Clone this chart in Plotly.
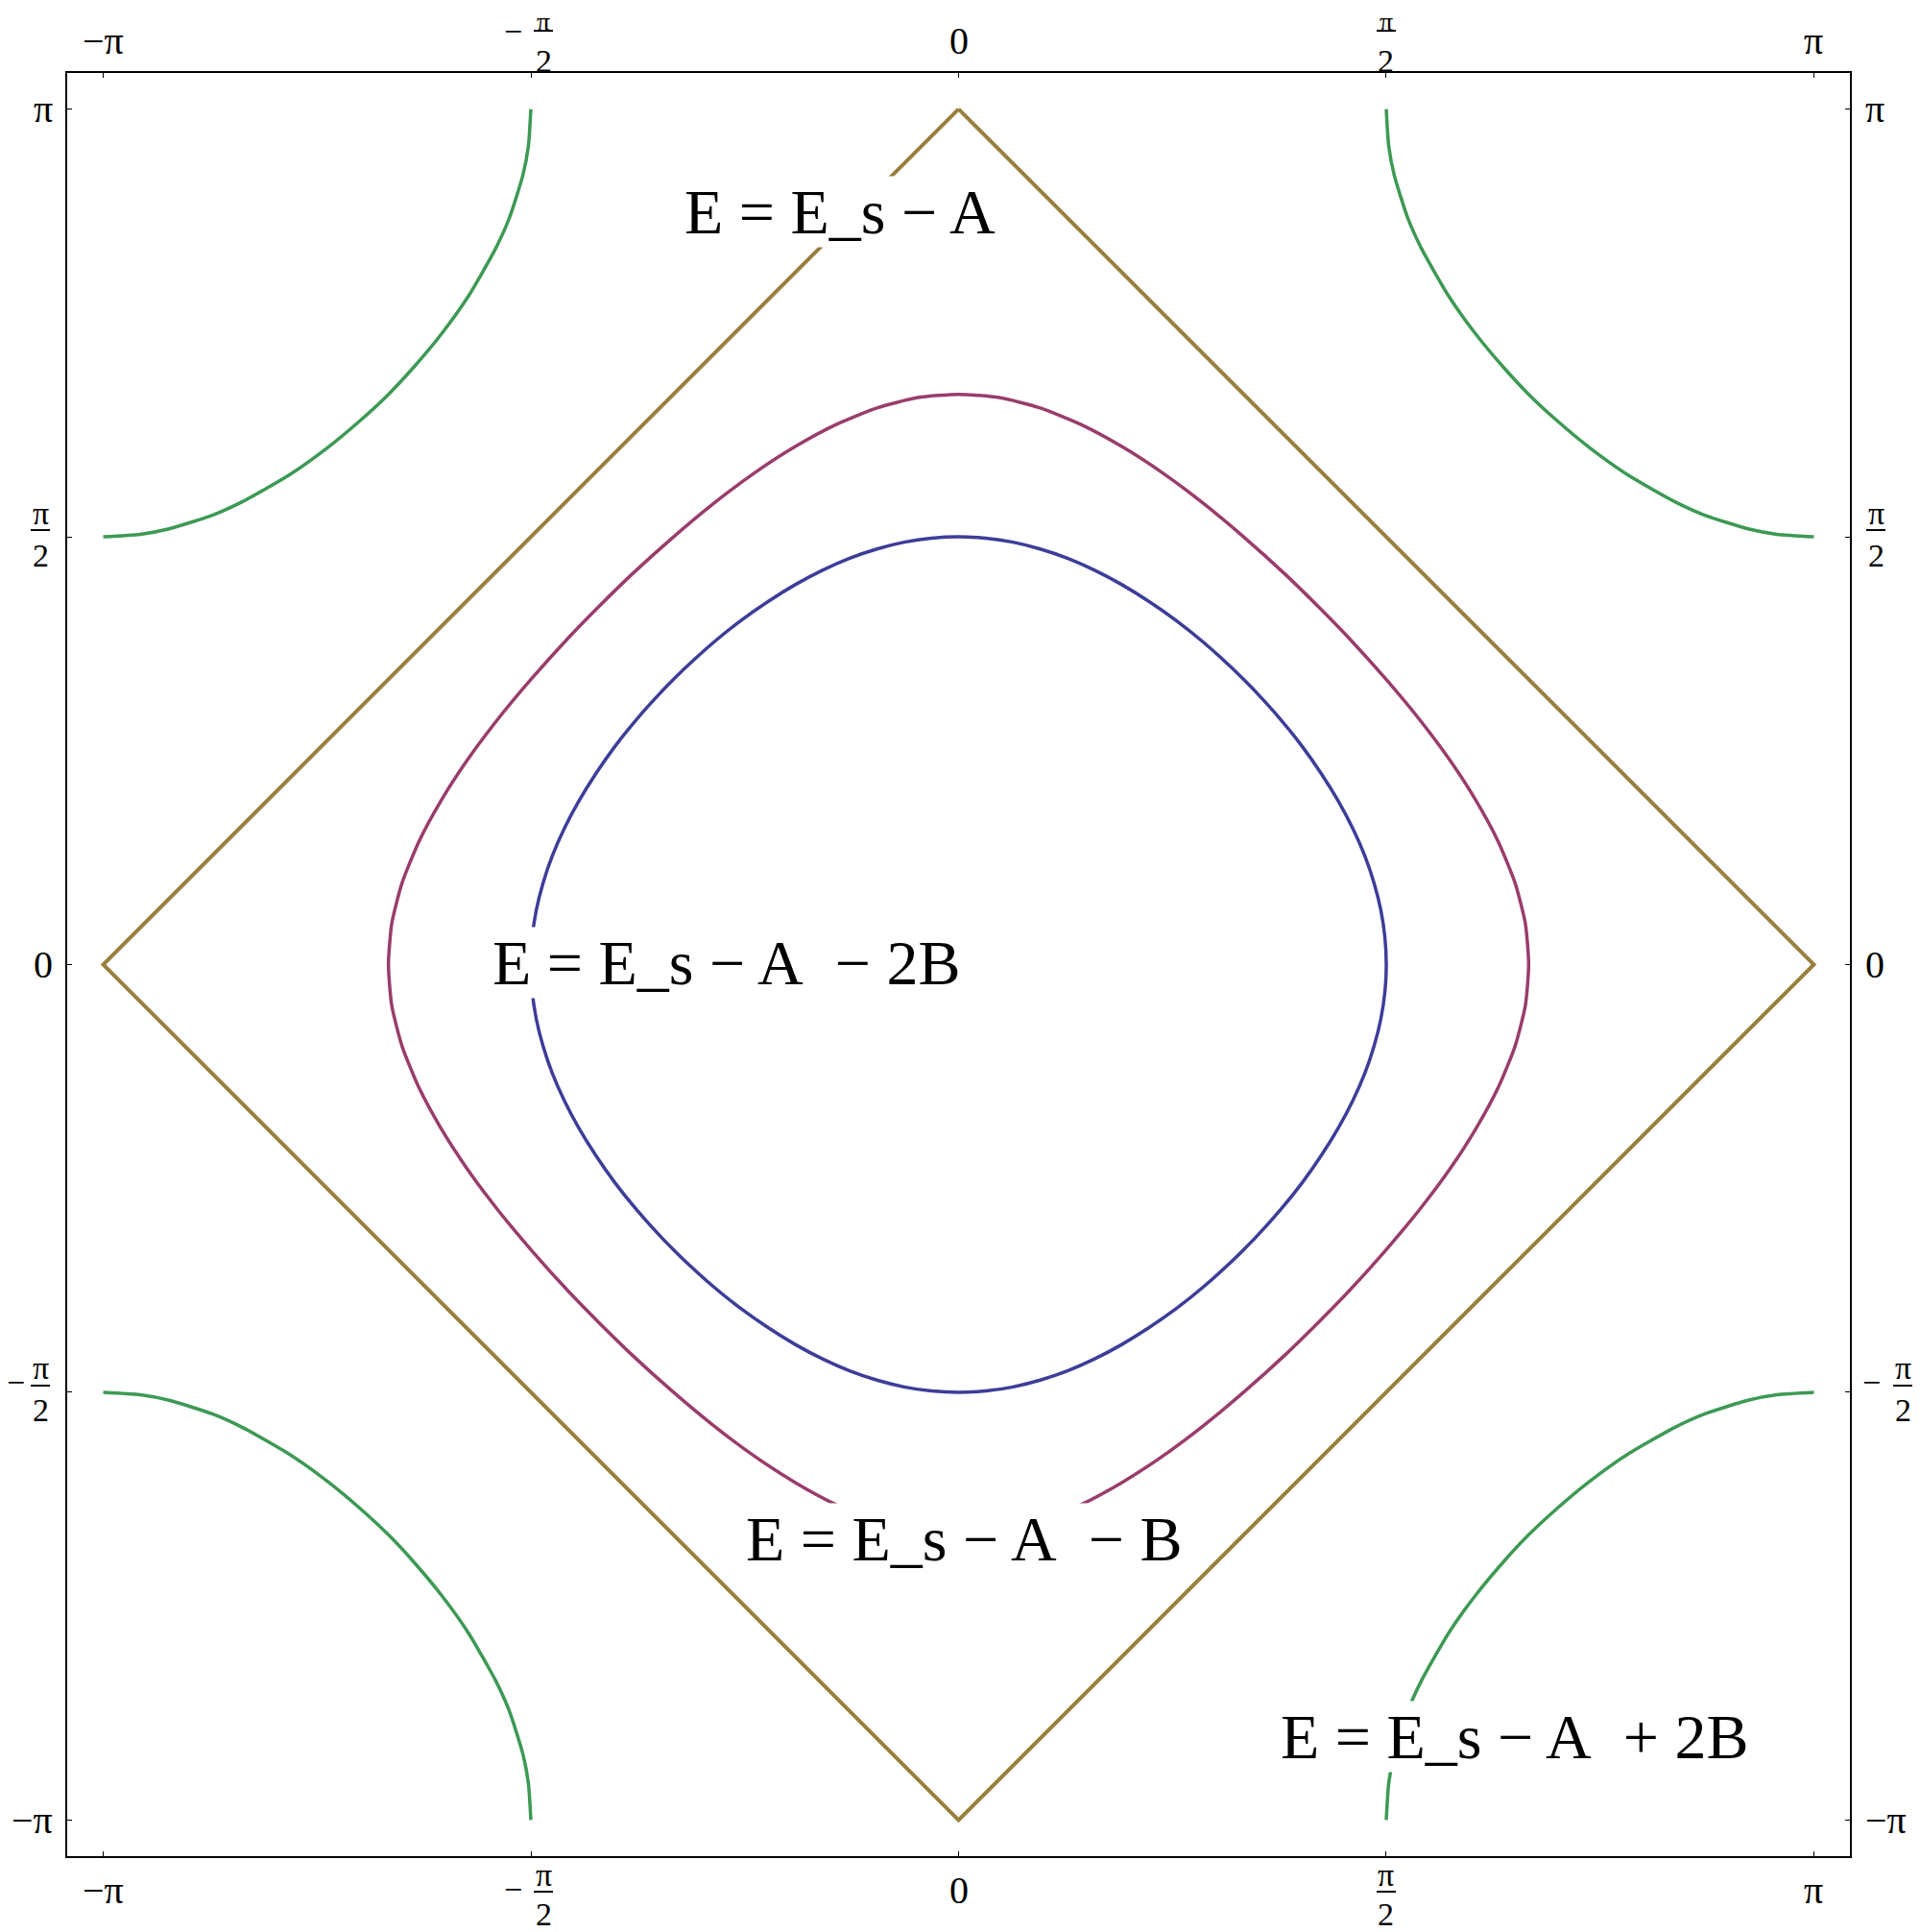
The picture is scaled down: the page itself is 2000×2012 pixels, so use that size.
import plotly.graph_objects as go

PI = 3.141592653589793

# ---------------- data ----------------
# contour E = E_s - A - 2B  (inner, blue), quadrant by quadrant, clockwise from the top
blue_q1_x = [0, 0.1, 0.2, 0.3, 0.4, 0.5, 0.6, 0.7, 0.8, 0.9, 1.0, 1.047, 1.093, 1.183, 1.263, 1.333, 1.395, 1.448, 1.492, 1.526, 1.551, 1.566, 1.571]
blue_q1_y = [1.571, 1.566, 1.551, 1.526, 1.492, 1.448, 1.395, 1.333, 1.263, 1.183, 1.093, 1.047, 1.0, 0.9, 0.8, 0.7, 0.6, 0.5, 0.4, 0.3, 0.2, 0.1, 0]
blue_q4_x = [1.566, 1.551, 1.526, 1.492, 1.448, 1.395, 1.333, 1.263, 1.183, 1.093, 1.047, 1.0, 0.9, 0.8, 0.7, 0.6, 0.5, 0.4, 0.3, 0.2, 0.1, 0]
blue_q4_y = [-0.1, -0.2, -0.3, -0.4, -0.5, -0.6, -0.7, -0.8, -0.9, -1.0, -1.047, -1.093, -1.183, -1.263, -1.333, -1.395, -1.448, -1.492, -1.526, -1.551, -1.566, -1.571]
blue_q3_x = [-0.1, -0.2, -0.3, -0.4, -0.5, -0.6, -0.7, -0.8, -0.9, -1.0, -1.047, -1.093, -1.183, -1.263, -1.333, -1.395, -1.448, -1.492, -1.526, -1.551, -1.566, -1.571]
blue_q3_y = [-1.566, -1.551, -1.526, -1.492, -1.448, -1.395, -1.333, -1.263, -1.183, -1.093, -1.047, -1.0, -0.9, -0.8, -0.7, -0.6, -0.5, -0.4, -0.3, -0.2, -0.1, 0]
blue_q2_x = [-1.566, -1.551, -1.526, -1.492, -1.448, -1.395, -1.333, -1.263, -1.183, -1.093, -1.047, -1.0, -0.9, -0.8, -0.7, -0.6, -0.5, -0.4, -0.3, -0.2, -0.1, 0]
blue_q2_y = [0.1, 0.2, 0.3, 0.4, 0.5, 0.6, 0.7, 0.8, 0.9, 1.0, 1.047, 1.093, 1.183, 1.263, 1.333, 1.395, 1.448, 1.492, 1.526, 1.551, 1.566, 1.571]

# contour E = E_s - A - B  (magenta)
mag_q1_x = [0, 0.15, 0.30, 0.45, 0.60, 0.75, 0.90, 1.05, 1.20, 1.318, 1.433, 1.568, 1.693, 1.805, 1.902, 1.983, 2.044, 2.082, 2.094]
mag_q1_y = [2.094, 2.082, 2.044, 1.983, 1.902, 1.805, 1.693, 1.568, 1.433, 1.318, 1.20, 1.05, 0.90, 0.75, 0.60, 0.45, 0.30, 0.15, 0]
mag_q4_x = [2.082, 2.044, 1.983, 1.902, 1.805, 1.693, 1.568, 1.433, 1.318, 1.20, 1.05, 0.90, 0.75, 0.60, 0.45, 0.30, 0.15, 0]
mag_q4_y = [-0.15, -0.30, -0.45, -0.60, -0.75, -0.90, -1.05, -1.20, -1.318, -1.433, -1.568, -1.693, -1.805, -1.902, -1.983, -2.044, -2.082, -2.094]
mag_q3_x = [-0.15, -0.30, -0.45, -0.60, -0.75, -0.90, -1.05, -1.20, -1.318, -1.433, -1.568, -1.693, -1.805, -1.902, -1.983, -2.044, -2.082, -2.094]
mag_q3_y = [-2.082, -2.044, -1.983, -1.902, -1.805, -1.693, -1.568, -1.433, -1.318, -1.20, -1.05, -0.90, -0.75, -0.60, -0.45, -0.30, -0.15, 0]
mag_q2_x = [-2.082, -2.044, -1.983, -1.902, -1.805, -1.693, -1.568, -1.433, -1.318, -1.20, -1.05, -0.90, -0.75, -0.60, -0.45, -0.30, -0.15, 0]
mag_q2_y = [0.15, 0.30, 0.45, 0.60, 0.75, 0.90, 1.05, 1.20, 1.318, 1.433, 1.568, 1.693, 1.805, 1.902, 1.983, 2.044, 2.082, 2.094]

# contour E = E_s - A  (diamond, gold)
dia_x = [0, 3.1416, 0, -3.1416, 0]
dia_y = [3.1416, 0, -3.1416, 0, 3.1416]

# contour E = E_s - A + 2B  (four corner arcs, green)
grn_tr_x = [1.571, 1.58, 1.60, 1.65, 1.70, 1.80, 1.90, 2.0, 2.094, 2.195, 2.315, 2.455, 2.630, 2.741, 2.900, 3.006, 3.1416]
grn_tr_y = [3.1416, 3.006, 2.900, 2.741, 2.630, 2.455, 2.315, 2.195, 2.094, 2.0, 1.90, 1.80, 1.70, 1.65, 1.60, 1.58, 1.571]
grn_tl_x = [-1.571, -1.58, -1.60, -1.65, -1.70, -1.80, -1.90, -2.0, -2.094, -2.195, -2.315, -2.455, -2.630, -2.741, -2.900, -3.006, -3.1416]
grn_tl_y = [3.1416, 3.006, 2.900, 2.741, 2.630, 2.455, 2.315, 2.195, 2.094, 2.0, 1.90, 1.80, 1.70, 1.65, 1.60, 1.58, 1.571]
grn_bl_x = [-1.571, -1.58, -1.60, -1.65, -1.70, -1.80, -1.90, -2.0, -2.094, -2.195, -2.315, -2.455, -2.630, -2.741, -2.900, -3.006, -3.1416]
grn_bl_y = [-3.1416, -3.006, -2.900, -2.741, -2.630, -2.455, -2.315, -2.195, -2.094, -2.0, -1.90, -1.80, -1.70, -1.65, -1.60, -1.58, -1.571]
grn_br_x = [1.571, 1.58, 1.60, 1.65, 1.70, 1.80, 1.90, 2.0, 2.094, 2.195, 2.315, 2.455, 2.630, 2.741, 2.900, 3.006, 3.1416]
grn_br_y = [-3.1416, -3.006, -2.900, -2.741, -2.630, -2.455, -2.315, -2.195, -2.094, -2.0, -1.90, -1.80, -1.70, -1.65, -1.60, -1.58, -1.571]

tick_vals = [-PI, -PI / 2, 0, PI / 2, PI]
# (sign, numerator, denominator) ; empty denominator means a plain label
tick_parts = [("−", "π", ""), ("−", "π", "2"), ("", "0", ""), ("", "π", "2"), ("", "π", "")]

label_texts = ["E = E_s − A", "E = E_s − A\u00a0 − 2B", "E = E_s − A\u00a0 − B", "E = E_s − A\u00a0 + 2B"]
label_x = [-0.434, -0.853, 0.021, 2.045]
label_y = [2.766, 0.006, -2.107, -2.835]

# ---------------- style ----------------
C_BLUE = "#3d3d99"
C_MAG = "#993d6b"
C_GOLD = "#997f3d"
C_GRN = "#3d9954"
SERIF = "Liberation Serif"
RNG = [-3.274, 3.274]

blue_x = blue_q1_x + blue_q4_x + blue_q3_x + blue_q2_x
blue_y = blue_q1_y + blue_q4_y + blue_q3_y + blue_q2_y
mag_x = mag_q1_x + mag_q4_x + mag_q3_x + mag_q2_x
mag_y = mag_q1_y + mag_q4_y + mag_q3_y + mag_q2_y

fig = go.Figure()
spl = dict(shape="spline", smoothing=0.6)
fig.add_trace(go.Scatter(x=blue_x, y=blue_y, mode="lines", line=dict(color=C_BLUE, width=3.5, **spl)))
fig.add_trace(go.Scatter(x=mag_x, y=mag_y, mode="lines", line=dict(color=C_MAG, width=3.5, **spl)))
fig.add_trace(go.Scatter(x=dia_x, y=dia_y, mode="lines", line=dict(color=C_GOLD, width=4)))
for gx, gy in [(grn_tr_x, grn_tr_y), (grn_tl_x, grn_tl_y), (grn_bl_x, grn_bl_y), (grn_br_x, grn_br_y)]:
    fig.add_trace(go.Scatter(x=gx, y=gy, mode="lines", line=dict(color=C_GRN, width=3.5, **spl)))

ann = []
shapes = []

# contour labels with white boxes
for t, lx, ly in zip(label_texts, label_x, label_y):
    ann.append(dict(x=lx, y=ly, xref="x", yref="y", text=t, showarrow=False,
                    font=dict(family=SERIF, size=66, color="black"),
                    bgcolor="white", borderpad=0, xanchor="center", yanchor="middle"))

INT_FS = 40
FR_FS = 34
TOP_PI_FS = 28


def txt(**kw):
    d = dict(showarrow=False, xanchor="center", yanchor="middle")
    d.update(kw)
    return d


def bar(axis, v, side, dx, dy):
    # fraction bar, pixel-sized around the tick anchor
    if axis == "x":
        shapes.append(dict(type="line", xref="x", yref="paper", xsizemode="pixel", ysizemode="pixel",
                           xanchor=v, yanchor=side, x0=dx - 10, x1=dx + 10, y0=dy, y1=dy,
                           line=dict(color="black", width=2)))
    else:
        shapes.append(dict(type="line", xref="paper", yref="y", xsizemode="pixel", ysizemode="pixel",
                           xanchor=side, yanchor=v, x0=dx - 10, x1=dx + 10, y0=dy, y1=dy,
                           line=dict(color="black", width=2)))


for v, (sg, num, den) in zip(tick_vals, tick_parts):
    fi = dict(family=SERIF, size=INT_FS, color="black")
    ff = dict(family=SERIF, size=FR_FS, color="black")
    ft = dict(family=SERIF, size=TOP_PI_FS, color="black")
    if den == "":
        s = sg + num
        ann.append(txt(x=v, y=1, xref="x", yref="paper", text=s, font=fi, yshift=33.5))
        ann.append(txt(x=v, y=0, xref="x", yref="paper", text=s, font=fi, yshift=-35.5))
        ann.append(txt(x=0, y=v, xref="paper", yref="y", text=s, font=fi, xanchor="right", xshift=-13))
        ann.append(txt(x=1, y=v, xref="paper", yref="y", text=s, font=fi, xanchor="left", xshift=14))
    else:
        neg = sg != ""
        dx = 13 if neg else 0
        # top
        ann.append(txt(x=v, y=1, xref="x", yref="paper", text=num, font=ft, xshift=dx, yshift=54))
        ann.append(txt(x=v, y=1, xref="x", yref="paper", text=den, font=ff, xshift=dx, yshift=13))
        bar("x", v, 1, dx, 44)
        if neg:
            ann.append(txt(x=v, y=1, xref="x", yref="paper", text=sg, font=ff, xshift=dx - 32, yshift=44))
        # bottom
        ann.append(txt(x=v, y=0, xref="x", yref="paper", text=num, font=ff, xshift=dx, yshift=-19))
        ann.append(txt(x=v, y=0, xref="x", yref="paper", text=den, font=ff, xshift=dx, yshift=-60))
        bar("x", v, 0, dx, -37)
        if neg:
            ann.append(txt(x=v, y=0, xref="x", yref="paper", text=sg, font=ff, xshift=dx - 32, yshift=-34))
        # left
        ann.append(txt(x=0, y=v, xref="paper", yref="y", text=num, font=ff, xshift=-28, yshift=25))
        ann.append(txt(x=0, y=v, xref="paper", yref="y", text=den, font=ff, xshift=-28, yshift=-19))
        bar("y", v, 0, -28, 7)
        if neg:
            ann.append(txt(x=0, y=v, xref="paper", yref="y", text=sg, font=ff, xshift=-54, yshift=10))
        # right
        rx = 55 if neg else 27
        ann.append(txt(x=1, y=v, xref="paper", yref="y", text=num, font=ff, xshift=rx, yshift=25))
        ann.append(txt(x=1, y=v, xref="paper", yref="y", text=den, font=ff, xshift=rx, yshift=-19))
        bar("y", v, 1, rx, 7)
        if neg:
            ann.append(txt(x=1, y=v, xref="paper", yref="y", text=sg, font=ff, xshift=rx - 33, yshift=10))

axis_common = dict(range=RNG, showgrid=False, zeroline=False, showline=True, linecolor="black",
                   linewidth=1.5, mirror="ticks", ticks="inside", ticklen=5, tickwidth=1,
                   tickcolor="black", tickvals=tick_vals, showticklabels=False, fixedrange=True)

# the page body adds an 8px offset, so the figure is 8px smaller than the window
fig.update_layout(
    width=1992, height=2004,
    margin=dict(l=62, r=73, t=68, b=79),
    paper_bgcolor="white", plot_bgcolor="white",
    showlegend=False, hovermode=False,
    xaxis=axis_common, yaxis=axis_common,
    annotations=ann, shapes=shapes,
)

fig.write_html("out.html")
